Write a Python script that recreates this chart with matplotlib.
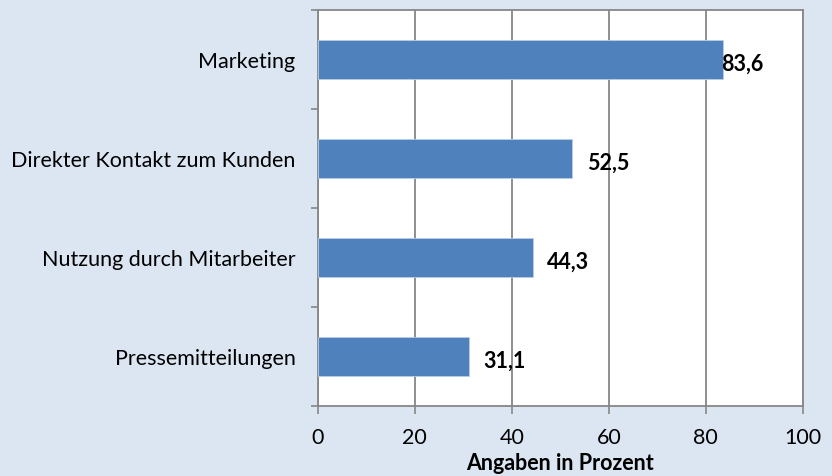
import numpy as np
import matplotlib.pyplot as plt

categories = ["Pressemitteilungen", "Nutzung durch Mitarbeiter",
              "Direkter Kontakt zum Kunden", "Marketing"]
values = [31.1, 44.3, 52.5, 83.6]
value_labels = ["31,1", "44,3", "52,5", "83,6"]
xticks = [0, 20, 40, 60, 80, 100]

plt.rcParams['font.family'] = ['Lato', 'DejaVu Sans']

fig = plt.figure(figsize=(8.32, 4.77), dpi=100)
fig.patch.set_facecolor('#dce6f2')
ax = fig.add_axes([0.382, 0.147, 0.583, 0.830])
ax.set_facecolor('white')

y = np.arange(len(categories))
ax.barh(y, values, height=0.4, color='#4f81bd', edgecolor='#b9cde5',
        linewidth=0.6, zorder=3)

# data labels, Excel puts the biggest one right at the bar end
offsets = [3, 3, 3, -0.5]
for yi, v, lab, off in zip(y, values, value_labels, offsets):
    ax.text(v + off, yi - 0.04, lab, va='center', ha='left',
            fontsize=15.5, fontweight='bold', color='black', zorder=4)

ax.set_xlim(0, 100)
ax.set_ylim(-0.5, len(categories) - 0.5)
ax.set_xticks(xticks)
ax.set_xticklabels([str(t) for t in xticks], fontsize=15.5)
ax.set_yticks(y)
ax.set_yticklabels(categories, fontsize=15.5)
ax.tick_params(axis='y', length=0, pad=16)
ax.set_yticks(np.arange(-0.5, len(categories), 1.0), minor=True)
ax.tick_params(axis='y', which='minor', length=5, color='#868686', width=1.2)
ax.tick_params(axis='x', length=6, color='#868686', width=1.2, pad=9)

ax.grid(axis='x', color='#868686', linewidth=1.3, zorder=1)
for s in ax.spines.values():
    s.set_color('#868686')
    s.set_linewidth(1.3)

ax.set_xlabel('Angaben in Prozent', fontsize=15.5, fontweight='bold', labelpad=4)

fig.savefig('out.png', dpi=100, facecolor=fig.get_facecolor())
